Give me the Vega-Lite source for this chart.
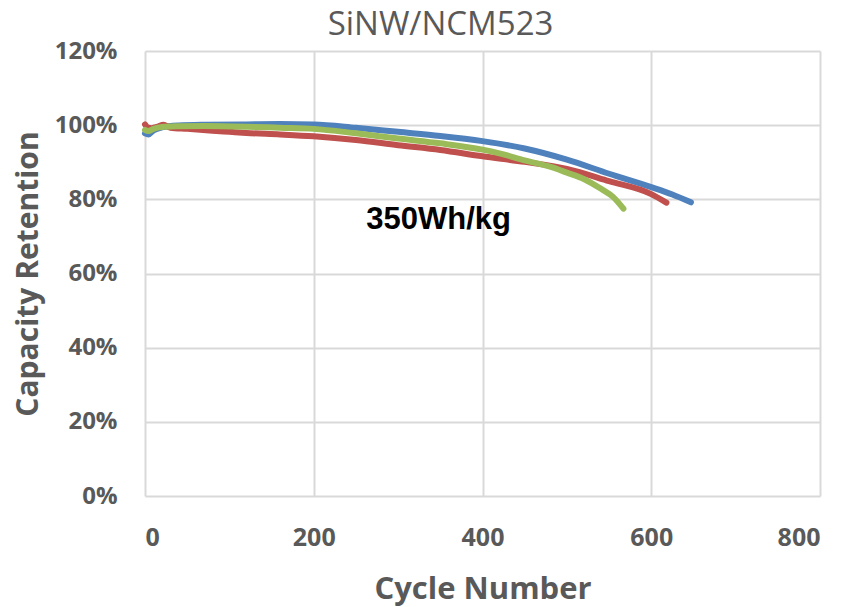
{
  "$schema": "https://vega.github.io/schema/vega-lite/v6.json",
  "width": 675,
  "height": 445,
  "autosize": {"type": "none"},
  "padding": {"left": 145, "top": 51, "right": 36, "bottom": 111},
  "background": "white",
  "title": {
    "text": "SiNW/NCM523",
    "font": "Open Sans",
    "fontSize": 33,
    "fontWeight": "normal",
    "color": "#595959",
    "anchor": "middle",
    "dx": -42,
    "offset": -3
  },
  "config": {
    "view": {"stroke": null},
    "axis": {
      "grid": true,
      "gridColor": "#d9d9d9",
      "gridWidth": 2,
      "domain": false,
      "ticks": false,
      "labelFont": "Open Sans",
      "labelFontSize": 24,
      "labelFontWeight": "bold",
      "labelColor": "#595959",
      "titleFont": "Open Sans",
      "titleFontWeight": "bold",
      "titleColor": "#595959"
    }
  },
  "datasets": {
    "cells": [
      {"s": "Cell 1", "c": 0, "r": 0.978},
      {"s": "Cell 1", "c": 4, "r": 0.975},
      {"s": "Cell 1", "c": 10, "r": 0.986},
      {"s": "Cell 1", "c": 20, "r": 0.994},
      {"s": "Cell 1", "c": 40, "r": 0.999},
      {"s": "Cell 1", "c": 70, "r": 1.001},
      {"s": "Cell 1", "c": 120, "r": 1.002},
      {"s": "Cell 1", "c": 160, "r": 1.003},
      {"s": "Cell 1", "c": 200, "r": 1.002},
      {"s": "Cell 1", "c": 250, "r": 0.993},
      {"s": "Cell 1", "c": 300, "r": 0.982},
      {"s": "Cell 1", "c": 350, "r": 0.971},
      {"s": "Cell 1", "c": 400, "r": 0.957},
      {"s": "Cell 1", "c": 450, "r": 0.937},
      {"s": "Cell 1", "c": 500, "r": 0.907},
      {"s": "Cell 1", "c": 550, "r": 0.869},
      {"s": "Cell 1", "c": 600, "r": 0.833},
      {"s": "Cell 1", "c": 625, "r": 0.813},
      {"s": "Cell 1", "c": 647, "r": 0.792},
      {"s": "Cell 2", "c": 0, "r": 1.002},
      {"s": "Cell 2", "c": 3, "r": 0.994},
      {"s": "Cell 2", "c": 8, "r": 0.992},
      {"s": "Cell 2", "c": 15, "r": 0.996},
      {"s": "Cell 2", "c": 22, "r": 1.001},
      {"s": "Cell 2", "c": 30, "r": 0.993},
      {"s": "Cell 2", "c": 50, "r": 0.990},
      {"s": "Cell 2", "c": 80, "r": 0.985},
      {"s": "Cell 2", "c": 100, "r": 0.982},
      {"s": "Cell 2", "c": 120, "r": 0.979},
      {"s": "Cell 2", "c": 160, "r": 0.975},
      {"s": "Cell 2", "c": 200, "r": 0.970},
      {"s": "Cell 2", "c": 250, "r": 0.960},
      {"s": "Cell 2", "c": 300, "r": 0.946},
      {"s": "Cell 2", "c": 350, "r": 0.933},
      {"s": "Cell 2", "c": 400, "r": 0.916},
      {"s": "Cell 2", "c": 450, "r": 0.901},
      {"s": "Cell 2", "c": 500, "r": 0.882},
      {"s": "Cell 2", "c": 550, "r": 0.849},
      {"s": "Cell 2", "c": 600, "r": 0.814},
      {"s": "Cell 2", "c": 618, "r": 0.791},
      {"s": "Cell 3", "c": 0, "r": 0.987},
      {"s": "Cell 3", "c": 4, "r": 0.984},
      {"s": "Cell 3", "c": 10, "r": 0.990},
      {"s": "Cell 3", "c": 20, "r": 0.995},
      {"s": "Cell 3", "c": 40, "r": 0.997},
      {"s": "Cell 3", "c": 70, "r": 0.998},
      {"s": "Cell 3", "c": 120, "r": 0.996},
      {"s": "Cell 3", "c": 160, "r": 0.993},
      {"s": "Cell 3", "c": 200, "r": 0.990},
      {"s": "Cell 3", "c": 250, "r": 0.978},
      {"s": "Cell 3", "c": 300, "r": 0.964},
      {"s": "Cell 3", "c": 350, "r": 0.951},
      {"s": "Cell 3", "c": 400, "r": 0.934},
      {"s": "Cell 3", "c": 420, "r": 0.924},
      {"s": "Cell 3", "c": 450, "r": 0.905},
      {"s": "Cell 3", "c": 480, "r": 0.888},
      {"s": "Cell 3", "c": 500, "r": 0.872},
      {"s": "Cell 3", "c": 520, "r": 0.855},
      {"s": "Cell 3", "c": 540, "r": 0.829},
      {"s": "Cell 3", "c": 555, "r": 0.806},
      {"s": "Cell 3", "c": 567, "r": 0.775}
    ],
    "notes": [
      {"c": 348, "r": 0.745, "label": "350Wh/kg"}
    ]
  },
  "layer": [
    {
      "data": {"name": "cells"},
      "mark": {"type": "line", "strokeWidth": 6, "strokeCap": "round", "strokeJoin": "round", "interpolate": "monotone"},
      "encoding": {
        "x": {
          "field": "c", "type": "quantitative",
          "scale": {"domain": [0, 800], "nice": false, "zero": true},
          "axis": {"values": [0, 200, 400, 600, 800], "title": "Cycle Number", "labelFontSize": 25, "labelPadding": 29, "titleFontSize": 31, "titlePadding": 24}
        },
        "y": {
          "field": "r", "type": "quantitative",
          "scale": {"domain": [0, 1.2], "nice": false},
          "axis": {"values": [0, 0.2, 0.4, 0.6, 0.8, 1.0, 1.2], "format": ".0%", "title": "Capacity Retention", "labelPadding": 28, "titleFontSize": 30, "titlePadding": 11}
        },
        "color": {
          "field": "s", "type": "nominal",
          "scale": {"domain": ["Cell 1", "Cell 2", "Cell 3"], "range": ["#4f81bd", "#c0504d", "#9bbb59"]},
          "legend": null
        },
        "order": {"field": "c", "type": "quantitative"}
      }
    },
    {
      "data": {"name": "notes"},
      "mark": {"type": "text", "font": "Liberation Sans", "fontSize": 31, "fontWeight": "bold", "color": "black", "align": "center", "baseline": "middle"},
      "encoding": {
        "x": {"field": "c", "type": "quantitative"},
        "y": {"field": "r", "type": "quantitative"},
        "text": {"field": "label"}
      }
    }
  ]
}
